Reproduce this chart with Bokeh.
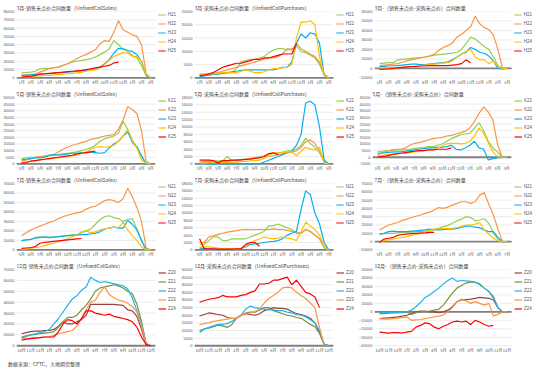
from bokeh.plotting import figure
from bokeh.models import Range1d, FixedTicker, Legend, LegendItem, Div
from bokeh.core.properties import value
from bokeh.layouts import column, row
from bokeh.embed import file_html
from bokeh.resources import INLINE

FONT = "Noto Sans CJK SC"
NUMFONT = "Liberation Sans"
STEP = 0.5  # half-month spacing between observations

# ---------------- tick labels ----------------
MONTHS_H = ["1月","2月","3月","4月","5月","6月","7月","8月","9月","10月","11月","12月","1月","2月","3月"]
MONTHS_K = ["3月","4月","5月","6月","7月","8月","9月","10月","11月","12月","1月","2月","3月","4月","5月"]
MONTHS_N = ["5月","6月","7月","8月","9月","10月","11月","12月","1月","2月","3月","4月","5月","6月","7月"]
MONTHS_Z = ["10月","11月","12月","1月","2月","3月","4月","5月","6月","7月","8月","9月","10月","11月","12月"]

NAMES_H = ["H21","H22","H23","H24","H25"]
NAMES_K = ["K21","K22","K23","K24","K25"]
NAMES_N = ["N21","N22","N23","N24","N25"]
NAMES_Z = ["Z20","Z21","Z22","Z23","Z24"]

COLORS_A = ["#92D050","#F79646","#00B0F0","#FFC000","#FF0000"]
COLORS_Z = ["#A0403C","#77933C","#1CB5EE","#F79646","#FF0000"]

# ---------------- data (thousand contracts) ----------------
# March (H) sales
H_SALES_21 = [6,6.5,7,8,11,11.5,11.5,12,13,15,17,19,20,21,22,23,25,28,31,35,45,40,35,32,27,24,15,3,0]
H_SALES_22 = [3,3.5,4,5,7,9,11,12.5,13,15,17,20,23,26,28,31,34,41,45,44,55,69,58,55,52,50,40,5,0]
H_SALES_23 = [3,3.2,3.5,4,4.5,5,5,5.5,6,6.5,7,7.5,8,8.5,9,10,11,13,17,22,30,35.5,35,33,32,28,20,3,0]
H_SALES_24 = [1,1.2,1.5,2,2.5,3,3,3.5,4,4.5,5,5.5,6,7,8,9,10,12,16,21,26,28,30.5,30,26,25.5,20,4,0]
H_SALES_25 = [1,1.5,2,3,4.5,5,5.5,6,6.5,7,7.5,8,8.5,9,10,11,12,13,14,15,18,19]
# March (H) purchases
H_PUR_21 = [0.8,1,1.2,1.3,1.5,1.6,1.8,2,3.5,6,6.5,7,7,7.5,8,9.5,10.5,11,11,10.5,11,12,10,9.5,8.5,7.5,5,1,0]
H_PUR_22 = [1.2,1.3,1.5,1.8,2,2.5,3,3.5,4,4.5,5,5.5,6,6.5,7,7.5,7.5,8,9,11,10.5,13,11,10,9,8,6,1.5,0]
H_PUR_23 = [0.5,0.7,1,1.3,1.5,1.8,2,2.3,2.5,2.8,3,3,3,3,3,3,3,3.5,4,4,6,13,16.5,15,17,16.5,13,1,0]
H_PUR_24 = [1.5,1.5,1.5,1.5,1.8,2,2,2,2,2.5,3,2.5,2,2,2.3,3,3.5,3.5,3.8,4,5,15,21,21,21.5,20,8,1,0]
H_PUR_25 = [0.8,1,1.5,2,3,4,4.5,5,5.5,5.5,6,6.5,7,7,7.5,7.5,8,8.5,9,9,9,13]
# March (H) net
H_NET_21 = [5,5.5,6,6,9,9.5,10,10.5,11,11.5,12,13,14,14.5,15,15.5,16,17,20,26,33,31,27,23,20,12,3,0,0]
H_NET_22 = [3,3.5,4,4.5,5,6.5,8,9,10,11,12,13,15,19,22,24,27,33,36,40,44,55,47,43,41,35,20,0,0]
H_NET_23 = [2,2.2,2.5,2.8,3,3.5,4,4.5,4.5,4,4,4.5,5,5.5,6,7,9,12,15,17,22,20,17,16,13,8,0,-0.5,0]
H_NET_24 = [-0.5,-0.3,0,0.3,0.5,1,1.5,2,2.5,3,3.5,4,4.5,5,5.5,6,8,12,15,18,20,12,9,9,5,8,2,0,0]
H_NET_25 = [-1,-0.8,-0.5,0,0.5,1,1.5,2,2,2.5,2.5,3,3,3,3,3,3.5,4,5,9,6]

# May (K) sales
K_SALES_21 = [4,4.5,5,5,5.5,5.5,6,6.5,7,7.5,8,8.5,9,10,11,12,14,17,19,20,21,23,32,26,16,12,6,0,0]
K_SALES_22 = [2,3,4,5,5.5,6,6.5,7,9,11,12.5,14,15,16,17,18.5,19,20,21,21.5,22,26,33,43,41,38,25,2,0]
K_SALES_23 = [3,3.5,4,4.5,4.5,5,6.5,7,6.5,7,7.5,8,8,8.5,8.5,9,8.5,8,8.5,12,15,17,21,24,17,13,6,0,0]
K_SALES_24 = [1,1.5,2,2.5,3,3.5,4,4.5,4.5,5,5.5,6,6.5,8,9,11,12.5,13,12.5,13,14,17,21,26,18,12,3,0.5,0]
K_SALES_25 = [0.5,1,2,2.5,3,3.5,4,4.5,5,5.5,6,6.5,7.5,8,8.5,9,9.5]
# May (K) purchases
K_PUR_21 = [0.5,0.6,0.7,0.8,0.8,0.8,2,0.9,1,1.2,1.3,1.5,1.7,2,2.2,2.5,2.8,3,3.2,3.5,3.5,4,5,7,5.5,4.5,3,0.5,0]
K_PUR_22 = [0.3,0.4,0.5,0.5,0.6,0.7,0.8,0.9,1,1.1,1.2,1.4,1.5,1.8,2,2,2.2,2.5,2.8,3,3.2,3.5,4.5,6,6.5,5.5,3.5,1,0]
K_PUR_23 = [0,0,0,0,0,0,0,0,0,0,0,0,0,0,0.5,1,1.5,2,2.5,3,3.5,5,8,16.5,17,16,10,1,0]
K_PUR_24 = [0.2,0.2,0.3,0.3,0.3,0.4,0.4,0.5,0.5,0.6,0.7,0.8,0.9,1,1.5,2.5,3,3,3,3.2,3.3,2.2,3.5,4.5,4,3.8,4.5,0.2,0]
K_PUR_25 = [1,1,1,0.9,0.2,0.9,0.9,1,1,1.1,1.2,1.3,1.5,1.6,2,2.8,3,2.5]
# May (K) net
K_NET_21 = [4,4.5,5,5,5.5,5.5,5.5,6,6.5,7,7.5,8,8,9,10,12,14,15.5,17,17.5,18,22,26,20,12,7,4,0,0]
K_NET_22 = [2,3.5,4.5,5.5,6,6,7,9,10.5,11,12,13,14,14.5,15,16,16.5,17.5,18.5,19.5,22,27,33,38,34,28,10,0,0]
K_NET_23 = [3,3.2,3.5,3.8,4,4,4.5,5,5.5,6,6.5,7,7,7.5,7.5,8,9,6,5.5,7,9,12,7,6,-2,-1,-0.5,0,0]
K_NET_24 = [1,1.5,2,2.2,2.5,2.8,3,3.5,4,4.5,5,5.5,5.5,7,8.5,10,10.5,10.5,10,10.5,12,16,22,18,11,4,0.5,0,0]
K_NET_25 = [0,0.5,1,2,2.5,3,3.5,4,4.5,5,5,5.5,5.5,6,6,6,7]

# July (N) sales
N_SALES_21 = [10,10.5,11,12,13,13.5,13.5,13.5,14,14.5,15,15.5,16,18,20,22,27,32,35,36,34,33,30,32,33,22,10,0,0]
N_SALES_22 = [15,18,21,23,25,27,29,30.5,33,35,36.5,38,39,40,43,45,46,49,52,53,52,50,54,65,56,45,30,2,0]
N_SALES_23 = [9.5,10.5,11,13,13.5,13.5,13,13.5,14,14.5,15,15.5,15.5,16,16,17,17.5,19,22,23,24,23,23,31,27,21,10,0,0]
N_SALES_24 = [0.5,1,1.5,2.5,3,4.5,6,7,9,10,12,14,16,19,20,18,19,21,22,23,24,23.5,29,21,15,10,3,0,0]
N_SALES_25 = [1.5,2,2.5,3.5,7,8,8.5,9,9.5,10,10.5,11,11.5,12]
# July (N) purchases
N_PUR_21 = [1.5,1.5,2.5,3.5,3.5,2.5,2.5,3,3,3,3,3.5,4,4.5,5,6.5,6.5,7,6.5,6,5.5,4.5,4.5,5.5,5,4,3,0.5,0]
N_PUR_22 = [2,2,3.5,3.8,4.2,4.5,4.8,5,5.2,5.4,5.5,5.5,5.5,5.5,5.5,5.5,5.7,5.5,5.5,5.3,5,4.8,4.5,5.5,5,4,3,1,0]
N_PUR_23 = [0.5,0.4,0.3,0.2,0.2,0.2,0.2,0.2,0.3,0.4,0.8,1.5,1.6,1.8,2,2.2,2.3,2.5,3,4,4.5,5,11,16,15,10,7,2,0]
N_PUR_24 = [0.8,0.8,0.8,0.7,0.5,0.3,0.3,0.3,0.3,0.5,1,2,2.5,3,3.5,3.2,3,3.2,3.5,3.2,3,2.5,5,7.5,6.5,5.5,4,1,0]
N_PUR_25 = [3,0.3,0.3,0.3,0.2,0.2,0.2,0.2,0.3,0.3,1.5,2,2,1]
# July (N) net
N_NET_21 = [9,9.5,10,10,10.5,11,11,11.5,12,12,12.5,13,14,16,18,19.5,22,25,27,30,29,25,26,27.5,22,10,3,0,0]
N_NET_22 = [14,17,20,21.5,23,25.5,27,29,30.5,32,34,35.5,38,41,40,41.5,44,46,48,48,46,48,56,59,45,32,15,0,0]
N_NET_23 = [9,10,12,12.5,12,12,12,12.5,13,13.5,14,15,14.5,14,14.5,15,15,16,17,19,18.5,17.5,16.5,14,12,12,5,0,0]
N_NET_24 = [0,1,2,3,4,5,6,7.5,8.5,10,12,14,15,16,15.5,16,16,17,18.5,20,20,21,23,14,9,4,1,0,0]
N_NET_25 = [-1,3,4,5,7.5,8.5,9,9.5,10,10.3,10.5,11,11]

# December (Z) sales
Z_SALES_20 = [11,12,13,13.5,13.5,14,14,15,18,22,20,20,22,24,28,38,38,38,38,38,38,37.5,37,33,32,27,15,1,0]
Z_SALES_21 = [8,9,10,10.5,11,11.5,12,13,17,22,26,26,28,33,37,43,50,53,54,55,56,55,53,50,48,38,22,2,0]
Z_SALES_22 = [7,8.5,10,11,12,13,15,20,25,31,37,43,46,51,54,63,60,58,59,58,57,56,55,52,44,32,20,2,0]
Z_SALES_23 = [6,6.5,7,7.5,7.5,8,8,9.5,11,12,13,14,18,25,33,40,42,49,54,47,44,42,41,39,36,31,18,2,0]
Z_SALES_24 = [5,6,6.5,7,7.5,8,8,8,13,20,24,23,20,25,32,32,30,29,28,29,27,26,25,24,22,17,8,1,0]
# December (Z) purchases
Z_PUR_20 = [19.5,20.5,21.5,21,20.5,20,18.5,18,18,20,21,20.5,20,21,23,24,25,24.5,24.5,24,22.5,21,20.5,19.5,18,15,9,1,0]
Z_PUR_21 = [10,11,11.5,12.5,13.5,13,12,14,18,20,21.5,22,22,23.5,25,25,23,22,21,20,19.5,18.5,18,16,14,12.5,8,1,0]
Z_PUR_22 = [8.5,11,12,13,14,14,14.5,16,18,20,24,26,25,24.5,24,23.5,23.5,23,23,22,21.5,20.5,20,19,17,15,10,1,0]
Z_PUR_23 = [14,14.5,15,16,16.5,17,17.5,18,18,20,21,21.5,22.5,24,28,31,33,35,38,38.5,38,35,33,31,28,25,12,0,0]
Z_PUR_24 = [28.5,29.5,30.5,31,31.5,33,32,32,32,33,33.5,35,36,40.5,40.5,41,43,43,44,45,40,43,39,35,34,32,25]
# December (Z) net
Z_NET_20 = [-8,-7.5,-7,-6.5,-6,-5,-4,-2,0,1,0.5,0,0,-1,0,2,6,12,14,14.5,15,16,17,16.5,16,14,5,0,0]
Z_NET_21 = [-2,-2,-1.5,-1.2,-1,-1,0,-3,-1,0,0.5,1,2,3,8,15,22,28,31,34,35,35,33,28,24,18,5,0,0]
Z_NET_22 = [-1,-1,-1,-1,-1,-0.5,0,2,6,11,17,20,24,28,33,37,40,36,37,36.5,36,35,32,28,24,16,5,0,0]
Z_NET_23 = [-8,-8.5,-8.5,-8,-7.5,-6.5,-6,-10,-9.5,-9,-8,-7,-6,-5,-3.5,0,5,12,15,13,10,12,10,8,10,-5,-3,0,0]
Z_NET_24 = [-24,-24.5,-25,-24.5,-24.5,-25,-24,-23,-18,-16,-13,-14,-18,-20,-17,-15,-12,-11,-12,-11,-15,-10,-12,-15,-17,-16]

# y ticks
YT_1 = [0,10000,20000,30000,40000,50000,60000,70000,80000]
YT_2 = [0,5000,10000,15000,20000,25000]
YT_3 = [-10000,0,10000,20000,30000,40000,50000,60000]
YT_4 = [0,5000,10000,15000,20000,25000,30000,35000,40000,45000,50000]
YT_5 = [0,2000,4000,6000,8000,10000,12000,14000,16000,18000]
YT_6 = [-5000,0,5000,10000,15000,20000,25000,30000,35000,40000,45000]
YT_7 = [0,10000,20000,30000,40000,50000,60000,70000]
YT_8 = [0,2000,4000,6000,8000,10000,12000,14000,16000,18000]
YT_9 = [-10000,0,10000,20000,30000,40000,50000,60000,70000]
YT_10 = [0,10000,20000,30000,40000,50000,60000,70000]
YT_11 = [0,5000,10000,15000,20000,25000,30000,35000,40000,45000,50000]
YT_12 = [-40000,-30000,-20000,-10000,0,10000,20000,30000,40000,50000]

W = 178
X0, X1, XEND = -0.55, 14.5, 16.9   # plot span; area beyond X1 holds the legend


def panel(title, labels, names, colors, data, yticks, height, pad_frac):
    span = yticks[-1] - yticks[0]
    pad = span * pad_frac                 # room under the lowest tick for month labels
    p = figure(width=W, height=height, output_backend="svg", toolbar_location=None,
               x_range=Range1d(X0, XEND), y_range=Range1d(yticks[0] - pad, yticks[-1]),
               x_axis_location=None,
               min_border_left=2, min_border_right=1, min_border_top=1, min_border_bottom=0,
               outline_line_color=None, background_fill_color="white")
    p.title.text = title
    p.title.text_font = FONT
    p.title.text_font_size = "5px"
    p.title.text_font_style = "normal"
    p.title.text_color = "#404040"
    p.title.offset = 0
    p.title.standoff = 2
    p.xgrid.visible = False
    p.ygrid.visible = False
    ax = p.yaxis[0]
    ax.ticker = FixedTicker(ticks=yticks)
    ax.axis_line_color = None
    ax.major_tick_line_color = None
    ax.minor_tick_line_color = None
    ax.major_tick_out = 0
    ax.major_tick_in = 0
    ax.minor_tick_out = 0
    ax.minor_tick_in = 0
    ax.major_label_text_font = NUMFONT
    ax.major_label_text_font_size = "4px"
    ax.major_label_text_color = "#595959"
    ax.major_label_standoff = 2
    # horizontal gridlines, stopping before the legend column
    p.segment(x0=[X0] * len(yticks), x1=[X1] * len(yticks), y0=yticks, y1=yticks,
              line_color="#D9D9D9", line_width=0.5)
    # thick zero line
    p.segment(x0=[X0], x1=[X1], y0=[0], y1=[0], line_color="#808080", line_width=1.8)
    # month labels under the lowest tick
    p.text(x=list(range(len(labels))), y=[yticks[0] - pad * 0.5] * len(labels), text=labels,
           text_font=value(FONT), text_font_size="4px", text_color="#595959",
           text_align="center", text_baseline="middle")
    items = []
    for name, color, vals in zip(names, colors, data):
        xs = [i * STEP for i in range(len(vals))]
        ys = [v * 1000 for v in vals]
        r = p.line(xs, ys, line_color=color, line_width=1.2)
        items.append(LegendItem(label=name, renderers=[r]))
    leg = Legend(items=items, location="top_right", label_text_font=NUMFONT,
                 label_text_font_size="4.5px", label_text_color="#595959",
                 glyph_width=8, glyph_height=5, label_height=5, label_width=8,
                 label_standoff=2, spacing=4, padding=0, margin=1,
                 border_line_color=None, background_fill_alpha=0)
    p.add_layout(leg)
    return p

RH = 86
RZ = 96
PA = 0.13
PZ = 0.115

p1 = panel("3月-销售未点价合同数量（UnfixedCallSales）", MONTHS_H, NAMES_H, COLORS_A,
           [H_SALES_21, H_SALES_22, H_SALES_23, H_SALES_24, H_SALES_25], YT_1, RH, PA)
p2 = panel("3月-采购未点价合同数量（UnfixedCallPurchases）", MONTHS_H, NAMES_H, COLORS_A,
           [H_PUR_21, H_PUR_22, H_PUR_23, H_PUR_24, H_PUR_25], YT_2, RH, PA)
p3 = panel("3月-（销售未点价-采购未点价）合同数量", MONTHS_H, NAMES_H, COLORS_A,
           [H_NET_21, H_NET_22, H_NET_23, H_NET_24, H_NET_25], YT_3, RH, PA)
p4 = panel("5月-销售未点价合同数量（UnfixedCallSales）", MONTHS_K, NAMES_K, COLORS_A,
           [K_SALES_21, K_SALES_22, K_SALES_23, K_SALES_24, K_SALES_25], YT_4, RH, PA)
p5 = panel("5月-采购未点价合同数量（UnfixedCallPurchases）", MONTHS_K, NAMES_K, COLORS_A,
           [K_PUR_21, K_PUR_22, K_PUR_23, K_PUR_24, K_PUR_25], YT_5, RH, PA)
p6 = panel("5月-（销售未点价-采购未点价）合同数量", MONTHS_K, NAMES_K, COLORS_A,
           [K_NET_21, K_NET_22, K_NET_23, K_NET_24, K_NET_25], YT_6, RH, PA)
p7 = panel("7月-销售未点价合同数量（UnfixedCallSales）", MONTHS_N, NAMES_N, COLORS_A,
           [N_SALES_21, N_SALES_22, N_SALES_23, N_SALES_24, N_SALES_25], YT_7, RH, PA)
p8 = panel("7月-采购未点价合同数量（UnfixedCallPurchases）", MONTHS_N, NAMES_N, COLORS_A,
           [N_PUR_21, N_PUR_22, N_PUR_23, N_PUR_24, N_PUR_25], YT_8, RH, PA)
p9 = panel("7月-（销售未点价-采购未点价）合同数量", MONTHS_N, NAMES_N, COLORS_A,
           [N_NET_21, N_NET_22, N_NET_23, N_NET_24, N_NET_25], YT_9, RH, PA)
p10 = panel("12月-销售未点价合同数量（UnfixedCallSales）", MONTHS_Z, NAMES_Z, COLORS_Z,
            [Z_SALES_20, Z_SALES_21, Z_SALES_22, Z_SALES_23, Z_SALES_24], YT_10, RZ, PZ)
p11 = panel("12月-采购未点价合同数量（UnfixedCallPurchases）", MONTHS_Z, NAMES_Z, COLORS_Z,
            [Z_PUR_20, Z_PUR_21, Z_PUR_22, Z_PUR_23, Z_PUR_24], YT_11, RZ, PZ)
p12 = panel("12月-（销售未点价-采购未点价）合同数量", MONTHS_Z, NAMES_Z, COLORS_Z,
            [Z_NET_20, Z_NET_21, Z_NET_22, Z_NET_23, Z_NET_24], YT_12, RZ, PZ)

note = Div(text="数据来源：CFTC，大地期货整理", width=200, height=10,
           styles={"font-size": "5px", "color": "#404040", "font-family": FONT,
                   "line-height": "10px", "padding-left": "3px"})

layout = column(row(p1, p2, p3), row(p4, p5, p6), row(p7, p8, p9), row(p10, p11, p12), note)

open("out.html", "w").write(file_html(layout, INLINE))
